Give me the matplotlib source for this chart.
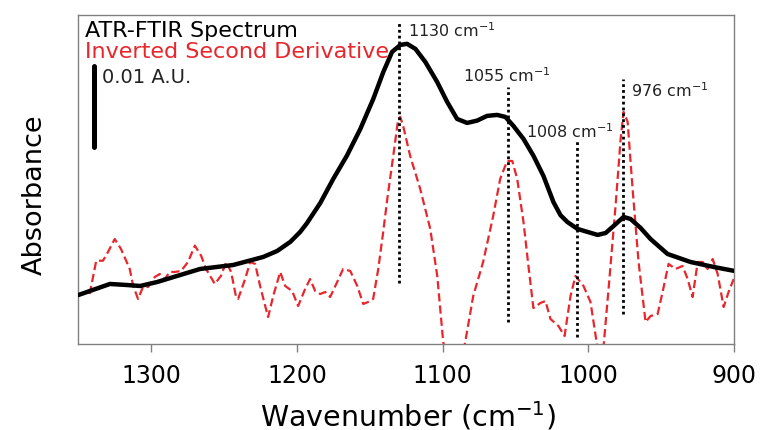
import numpy as np
import matplotlib
matplotlib.use("Agg")
import matplotlib.pyplot as plt

# ATR-FTIR spectrum (absorbance in mA.U.)
ftir_wn = [1350, 1328.4, 1316.7, 1307.7, 1296.0, 1266.5, 1243.8, 1223.2, 1213.6,
           1204.6, 1197.8, 1193.2, 1184.0, 1175.1, 1165.7, 1156.5, 1147.6, 1140.7,
           1134.7, 1129.0, 1124.4, 1118.7, 1111.9, 1103.8, 1096.9, 1090.1, 1083.2,
           1076.3, 1069.5, 1062.6, 1056.9, 1051.4, 1044.5, 1037.6, 1030.8, 1023.9,
           1019.1, 1014.4, 1007.4, 1000.5, 993.6, 988.1, 982.6, 975.8, 971.0,
           964.1, 957.3, 945.6, 929.8, 914.0, 899.5]
ftir_abs = [6.05, 7.41, 7.28, 7.16, 7.65, 9.26, 9.75, 10.74, 11.48,
            12.6, 13.83, 14.9, 17.4, 20.37, 23.25, 26.54, 30.25, 33.58,
            36.05, 36.91, 37.04, 36.42, 34.81, 32.35, 29.88, 27.78, 27.28,
            27.57, 28.15, 28.27, 28.02, 26.91, 25.31, 23.21, 20.74, 17.5,
            15.9, 15.06, 14.20, 13.83, 13.46, 13.7, 14.57, 15.68, 15.43,
            14.32, 12.96, 11.11, 10.12, 9.51, 9.01]

# inverted second derivative (same arbitrary units)
deriv_wn = [1342.3, 1337.8, 1333.2, 1329.7, 1325.1, 1320.8, 1314.8, 1312.5, 1309.1,
            1305.7, 1302.2, 1297.6, 1294.2, 1290.8, 1287.3, 1283.9, 1279.6, 1274.8,
            1270.1, 1265.8, 1262.4, 1256.4, 1252.1, 1248.6, 1245.2, 1241.8, 1240.4,
            1235.6, 1232.1, 1228.7, 1225.3, 1221.8, 1219.8, 1216.3, 1211.5, 1208.1,
            1203.3, 1199.2, 1194.4, 1191.0, 1187.5, 1184.0, 1180.6, 1177.2, 1172.4,
            1168.3, 1163.4, 1158.6, 1154.5, 1151.1, 1147.7, 1144.2, 1140.8, 1138.0,
            1133.9, 1130.5, 1129.1, 1127.1, 1122.3, 1115.4, 1108.5, 1103.7, 1099.6,
            1091.4, 1084.5, 1079.0, 1072.2, 1065.3, 1060.5, 1055.7, 1052.2, 1048.8,
            1044.5, 1041.1, 1037.7, 1032.9, 1029.4, 1026.0, 1020.5, 1016.3, 1012.2,
            1008.8, 1003.3, 998.5, 993.6, 991.6, 989.5, 986.1, 981.3, 977.8,
            975.8, 973.0, 969.6, 965.5, 960.7, 957.2, 952.4, 949.0, 944.9,
            940.1, 935.3, 931.8, 928.4, 924.9, 921.5, 918.1, 914.6, 911.2,
            907.1, 903.7, 900.2]
deriv_val = [6.17, 10.28, 10.28, 11.36, 12.96, 11.73, 9.26, 7.20, 5.56,
             7.04, 7.04, 8.27, 8.64, 8.02, 8.89, 8.89, 9.01, 10.12,
             12.14, 10.90, 9.26, 7.41, 8.43, 10.12, 8.89, 5.80, 5.56,
             8.02, 10.12, 9.88, 7.16, 4.69, 3.33, 5.93, 8.89, 7.16,
             6.54, 4.69, 6.79, 8.02, 6.54, 6.17, 6.42, 5.80, 7.65,
             9.26, 9.01, 7.16, 4.94, 5.19, 5.56, 9.26, 13.83, 17.90,
             23.21, 27.78, 28.02, 26.91, 23.21, 19.14, 14.20, 8.40, 0.25,
             -6.2, 0.25, 5.93, 10.12, 15.80, 20.37, 22.59, 22.59, 20.37,
             15.06, 9.63, 4.44, 5.06, 5.31, 3.09, 2.22, 0.99, 5.93,
             8.40, 7.16, 5.19, -0.6, -3.3, -0.25, 6.79, 17.04, 25.31,
             28.64, 27.41, 19.14, 10.12, 2.72, 3.46, 3.70, 6.42, 9.88,
             9.26, 9.63, 8.02, 5.80, 10.12, 10.12, 9.26, 10.49, 8.64,
             4.57, 6.42, 8.02]

# marked bands
peak_wn = [1130, 1055, 1008, 976]
peak_top = [39.9, 31.7, 25.3, 32.7]
peak_bottom = [7.5, 2.7, 0.9, 3.7]
peak_text = [r"1130 cm$^{-1}$", r"1055 cm$^{-1}$", r"1008 cm$^{-1}$", r"976 cm$^{-1}$"]
label_wn = [1123.5, 1085.7, 1043.1, 971.0]
label_y = [38.0, 32.5, 25.6, 30.6]

# 0.01 A.U. scale bar (10 mA.U.)
bar_wn = 1339.3
bar_bottom = 24.3
bar_len = 10

xticks = [1300, 1200, 1100, 1000, 900]

red = "#e8262b"
grey = "#808080"

fig = plt.figure(figsize=(7.64, 4.31), dpi=100)
ax = fig.add_axes([0.1027, 0.1995, 0.8580, 0.7634])

ax.plot(deriv_wn, deriv_val, color=red, lw=1.6, linestyle=(0, (3.7, 1.8)), zorder=2)
ax.plot(ftir_wn, ftir_abs, color="black", lw=3.2, solid_capstyle="round", zorder=3)
ax.vlines(peak_wn, peak_bottom, peak_top, colors="black", linestyles=(0, (1, 1.1)),
          lw=2.0, zorder=4)
for x, y, t in zip(label_wn, label_y, peak_text):
    ax.text(x, y, t, fontsize=11.5, ha="left", va="baseline", color="#222222")

ax.plot([bar_wn, bar_wn], [bar_bottom, bar_bottom + bar_len], color="black", lw=3.6,
        solid_capstyle="round")
ax.text(0.0359, 0.8116, "0.01 A.U.", transform=ax.transAxes, fontsize=14,
        ha="left", va="center", color="#222222")
ax.text(0.0099, 0.954, "ATR-FTIR Spectrum", transform=ax.transAxes, fontsize=16,
        ha="left", va="center", color="black")
ax.text(0.0099, 0.891, "Inverted Second Derivative", transform=ax.transAxes,
        fontsize=16, ha="left", va="center", color=red)

ax.set_xlim(1350, 900)
ax.set_ylim(0, 40.6)
ax.set_xticks(xticks)
ax.set_yticks([])
ax.tick_params(axis="x", direction="out", length=6, width=1, color=grey,
               labelsize=17, pad=8)
for s in ax.spines.values():
    s.set_color(grey)
    s.set_linewidth(1.0)

ax.set_xlabel(r"Wavenumber (cm$^{-1}$)", fontsize=20.5)
ax.xaxis.set_label_coords(0.503, -0.165)
ax.set_ylabel("Absorbance", fontsize=19.5)
ax.yaxis.set_label_coords(-0.047, 0.456)

fig.savefig("out.png", dpi=100)
